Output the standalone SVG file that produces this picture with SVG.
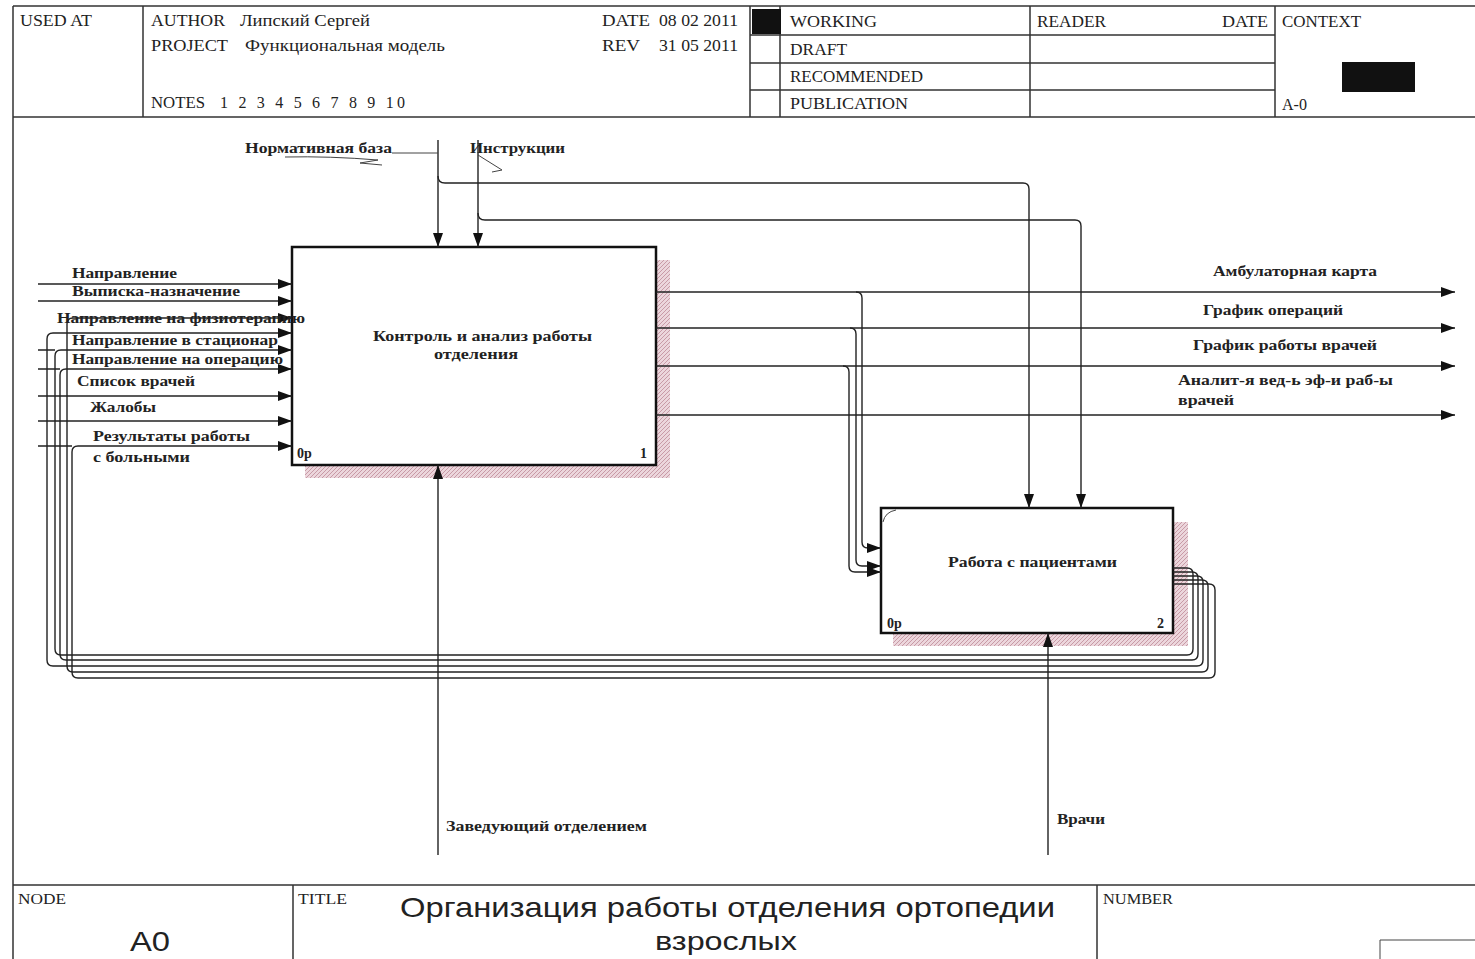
<svg xmlns="http://www.w3.org/2000/svg" width="1475" height="959" viewBox="0 0 1475 959">
<style>
.frame{stroke:#333;stroke-width:1.5;fill:none}
.hdr{font-family:"Liberation Serif",serif;font-size:16px;fill:#222}
.lbl{font-family:"Liberation Serif",serif;font-size:14px;font-weight:bold;fill:#222}
.box{fill:#fff;stroke:#111;stroke-width:2.5}
.shadow{fill:url(#hatch)}
.con{fill:none;stroke:#222;stroke-width:1.4}
.thin{fill:none;stroke:#444;stroke-width:1}
.ttl{font-family:"Liberation Sans",Arial,sans-serif;font-size:28px;fill:#222}
</style>
<defs>
<pattern id="hatch" width="4" height="4" patternUnits="userSpaceOnUse">
<rect width="4" height="4" fill="#ecd6dc"/>
<path d="M0,4 L4,0" stroke="#c89aa6" stroke-width="1"/>
</pattern>
<marker id="arr" markerUnits="userSpaceOnUse" markerWidth="14" markerHeight="10" refX="14" refY="5" orient="auto">
<path d="M0,0 L14,5 L0,10 z" fill="#111"/>
</marker>
</defs>
<rect width="1475" height="959" fill="#fff"/>

<g id="header">
<path class="frame" d="M13 6 H1475 M13 6 V959 M13 117 H1475 M143 6 V117 M750 6 V117 M780 6 V117 M1030 6 V117 M1275 6 V117 M750 35 H1275 M750 63 H1275 M750 90 H1275"/>
<rect x="752" y="9" width="29" height="25" fill="#111"/>
<rect x="1342" y="62" width="73" height="30" fill="#111"/>
<text class="hdr" x="20" y="26" textLength="72" lengthAdjust="spacingAndGlyphs">USED AT</text>
<text class="hdr" x="151" y="26" textLength="74" lengthAdjust="spacingAndGlyphs">AUTHOR</text>
<text class="hdr" x="240" y="26" textLength="130" lengthAdjust="spacingAndGlyphs">Липский Сергей</text>
<text class="hdr" x="151" y="51" textLength="77" lengthAdjust="spacingAndGlyphs">PROJECT</text>
<text class="hdr" x="245" y="51" textLength="200" lengthAdjust="spacingAndGlyphs">Функциональная модель</text>
<text class="hdr" x="151" y="108" textLength="54" lengthAdjust="spacingAndGlyphs">NOTES</text>
<text class="hdr" x="220" y="108" textLength="185" lengthAdjust="spacing">1  2  3  4  5  6  7  8  9  10</text>
<text class="hdr" x="602" y="26" textLength="48" lengthAdjust="spacingAndGlyphs">DATE</text>
<text class="hdr" x="659" y="26" textLength="79" lengthAdjust="spacingAndGlyphs">08 02 2011</text>
<text class="hdr" x="602" y="51" textLength="38" lengthAdjust="spacingAndGlyphs">REV</text>
<text class="hdr" x="659" y="51" textLength="79" lengthAdjust="spacingAndGlyphs">31 05 2011</text>
<text class="hdr" x="790" y="27" textLength="87" lengthAdjust="spacingAndGlyphs">WORKING</text>
<text class="hdr" x="790" y="55" textLength="57" lengthAdjust="spacingAndGlyphs">DRAFT</text>
<text class="hdr" x="790" y="82" textLength="133" lengthAdjust="spacingAndGlyphs">RECOMMENDED</text>
<text class="hdr" x="790" y="109" textLength="118" lengthAdjust="spacingAndGlyphs">PUBLICATION</text>
<text class="hdr" x="1037" y="27" textLength="69" lengthAdjust="spacingAndGlyphs">READER</text>
<text class="hdr" x="1222" y="27" textLength="46" lengthAdjust="spacingAndGlyphs">DATE</text>
<text class="hdr" x="1282" y="27" textLength="79" lengthAdjust="spacingAndGlyphs">CONTEXT</text>
<text class="hdr" x="1282" y="110" textLength="25" lengthAdjust="spacingAndGlyphs">A-0</text>
</g>

<g id="footer">
<path class="frame" d="M13 885 H1475 M293 885 V959 M1097 885 V959"/>
<path class="thin" d="M1380 959 V940 H1475"/>
<text class="hdr" x="18" y="904" style="font-size:15px" textLength="48" lengthAdjust="spacingAndGlyphs">NODE</text>
<text class="ttl" x="130" y="951" style="font-size:27px" textLength="40" lengthAdjust="spacingAndGlyphs">A0</text>
<text class="hdr" x="298" y="904" style="font-size:15px" textLength="49" lengthAdjust="spacingAndGlyphs">TITLE</text>
<text class="ttl" x="400" y="917" textLength="655" lengthAdjust="spacingAndGlyphs">Организация работы  отделения ортопедии</text>
<text class="ttl" x="655" y="950" style="font-size:26px" textLength="142" lengthAdjust="spacingAndGlyphs">взрослых</text>
<text class="hdr" x="1103" y="904" style="font-size:15px" textLength="70" lengthAdjust="spacingAndGlyphs">NUMBER</text>
</g>

<g id="node1">
<rect class="shadow" x="305" y="260" width="365" height="218"/>
<rect class="box" x="292" y="247" width="364" height="218"/>
<text class="lbl" x="373" y="341" textLength="219" lengthAdjust="spacingAndGlyphs">Контроль  и анализ работы</text>
<text class="lbl" x="434" y="359" textLength="84" lengthAdjust="spacingAndGlyphs">отделения</text>
<text class="lbl" x="297" y="458">0р</text>
<text class="lbl" x="640" y="458">1</text>
</g>

<g id="node2">
<rect class="shadow" x="893" y="522" width="295" height="124"/>
<rect class="box" x="881" y="508" width="292" height="125"/>
<path class="thin" d="M883 522 Q885 512 896 510"/>
<text class="lbl" x="948" y="567" textLength="169" lengthAdjust="spacingAndGlyphs">Работа с пациентами</text>
<text class="lbl" x="887" y="628">0р</text>
<text class="lbl" x="1157" y="628">2</text>
</g>

<g id="connectors">
<path class="con" d="M438 140 V247" marker-end="url(#arr)"/>
<path class="con" d="M478 140 V247" marker-end="url(#arr)"/>
<path class="con" d="M438 176 Q438 183 445 183 H1023 Q1029 183 1029 189 V508" marker-end="url(#arr)"/>
<path class="con" d="M478 213 Q478 220 485 220 H1075 Q1081 220 1081 226 V508" marker-end="url(#arr)"/>
<path class="thin" d="M392 153 H438"/>
<path class="thin" d="M285 157 Q330 156 378 160 L360 163 L382 165"/>
<path class="thin" d="M478 155 L502 170 L492 172"/>
<path class="con" d="M38 284 H292" marker-end="url(#arr)"/>
<path class="con" d="M38 301 H292" marker-end="url(#arr)"/>
<path class="con" d="M38 396 H292" marker-end="url(#arr)"/>
<path class="con" d="M38 421 H292" marker-end="url(#arr)"/>
<path class="con" d="M38 350 H55 M38 369 H60 M38 446 H72"/>
<path class="con" d="M1173 568 H1187 Q1193 568 1193 574 V649 Q1193 655 1187 655 H61 Q55 655 55 649 V356 Q55 350 61 350 H292" marker-end="url(#arr)"/>
<path class="con" d="M1173 572 H1192 Q1198 572 1198 578 V654 Q1198 660 1192 660 H66 Q60 660 60 654 V375 Q60 369 66 369 H292" marker-end="url(#arr)"/>
<path class="con" d="M1173 576 H1197 Q1203 576 1203 582 V660 Q1203 666 1197 666 H53 Q47 666 47 660 V339 Q47 333 53 333 H292" marker-end="url(#arr)"/>
<path class="con" d="M1173 580 H1202 Q1208 580 1208 586 V666 Q1208 672 1202 672 H73 Q67 672 67 666 V324 Q67 318 73 318 H292" marker-end="url(#arr)"/>
<path class="con" d="M1173 584 H1209 Q1215 584 1215 590 V672 Q1215 678 1209 678 H78 Q72 678 72 672 V452 Q72 446 78 446 H292" marker-end="url(#arr)"/>
<path class="con" d="M656 292 H1455" marker-end="url(#arr)"/>
<path class="con" d="M656 328 H1455" marker-end="url(#arr)"/>
<path class="con" d="M656 366 H1455" marker-end="url(#arr)"/>
<path class="con" d="M656 415 H1455" marker-end="url(#arr)"/>
<path class="con" d="M856 292 Q862 292 862 298 V542 Q862 548 868 548 H881" marker-end="url(#arr)"/>
<path class="con" d="M850 328 Q856 328 856 334 V560 Q856 566 862 566 H881" marker-end="url(#arr)"/>
<path class="con" d="M843 366 Q849 366 849 372 V566 Q849 572 855 572 H881" marker-end="url(#arr)"/>
<path class="con" d="M438 855 V465" marker-end="url(#arr)"/>
<path class="con" d="M1048 855 V633" marker-end="url(#arr)"/>
</g>

<g id="labels">
<text class="lbl" x="245" y="153" textLength="147" lengthAdjust="spacingAndGlyphs">Нормативная база</text>
<text class="lbl" x="470" y="153" textLength="95" lengthAdjust="spacingAndGlyphs">Инструкции</text>
<text class="lbl" x="72" y="278" textLength="105" lengthAdjust="spacingAndGlyphs">Направление</text>
<text class="lbl" x="72" y="296" textLength="168" lengthAdjust="spacingAndGlyphs">Выписка-назначение</text>
<text class="lbl" x="57" y="323" textLength="248" lengthAdjust="spacingAndGlyphs">Направление на физиотерапию</text>
<text class="lbl" x="72" y="345" textLength="206" lengthAdjust="spacingAndGlyphs">Направление в стационар</text>
<text class="lbl" x="72" y="364" textLength="211" lengthAdjust="spacingAndGlyphs">Направление на операцию</text>
<text class="lbl" x="77" y="386" textLength="118" lengthAdjust="spacingAndGlyphs">Список врачей</text>
<text class="lbl" x="90" y="412" textLength="66" lengthAdjust="spacingAndGlyphs">Жалобы</text>
<text class="lbl" x="93" y="441" textLength="157" lengthAdjust="spacingAndGlyphs">Результаты работы</text>
<text class="lbl" x="93" y="462" textLength="97" lengthAdjust="spacingAndGlyphs">с больными</text>
<text class="lbl" x="1213" y="276" textLength="164" lengthAdjust="spacingAndGlyphs">Амбулаторная карта</text>
<text class="lbl" x="1203" y="315" textLength="140" lengthAdjust="spacingAndGlyphs">График операций</text>
<text class="lbl" x="1193" y="350" textLength="184" lengthAdjust="spacingAndGlyphs">График работы врачей</text>
<text class="lbl" x="1178" y="385" textLength="215" lengthAdjust="spacingAndGlyphs">Аналит-я вед-ь эф-и раб-ы</text>
<text class="lbl" x="1178" y="405" textLength="56" lengthAdjust="spacingAndGlyphs">врачей</text>
<text class="lbl" x="446" y="831" textLength="201" lengthAdjust="spacingAndGlyphs">Заведующий отделением</text>
<text class="lbl" x="1057" y="824" textLength="48" lengthAdjust="spacingAndGlyphs">Врачи</text>
</g>
</svg>
